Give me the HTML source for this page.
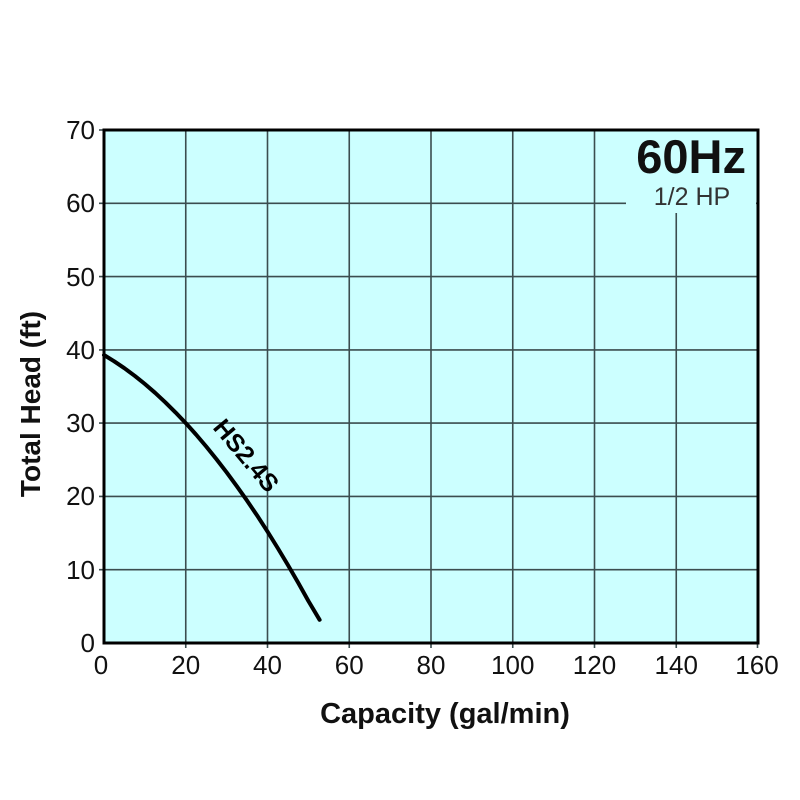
<!DOCTYPE html>
<html><head><meta charset="utf-8"><style>
html,body{margin:0;padding:0;background:#fff;}
svg{display:block;}
</style></head><body>
<svg width="800" height="800" viewBox="0 0 800 800" xmlns="http://www.w3.org/2000/svg">
<rect x="0" y="0" width="800" height="800" fill="#ffffff"/>
<rect x="104" y="130" width="654" height="513" fill="#ccffff"/>
<g stroke="#3b4d4f" stroke-width="1.6">
<line x1="185.75" y1="130" x2="185.75" y2="648"/>
<line x1="267.5" y1="130" x2="267.5" y2="648"/>
<line x1="349.25" y1="130" x2="349.25" y2="648"/>
<line x1="431" y1="130" x2="431" y2="648"/>
<line x1="512.75" y1="130" x2="512.75" y2="648"/>
<line x1="594.5" y1="130" x2="594.5" y2="648"/>
<line x1="676.25" y1="130" x2="676.25" y2="648"/>
<line x1="99" y1="569.7" x2="758" y2="569.7"/>
<line x1="99" y1="496.4" x2="758" y2="496.4"/>
<line x1="99" y1="423.1" x2="758" y2="423.1"/>
<line x1="99" y1="349.9" x2="758" y2="349.9"/>
<line x1="99" y1="276.6" x2="758" y2="276.6"/>
<line x1="99" y1="203.3" x2="758" y2="203.3"/>
<line x1="99" y1="130" x2="104" y2="130"/>
<line x1="757.5" y1="643" x2="757.5" y2="648"/>
</g>
<rect x="626" y="131" width="130" height="82" fill="#ccffff"/>
<rect x="104" y="130" width="654" height="513" fill="none" stroke="#000" stroke-width="3"/>
<polyline points="104,355 114.2,361.3 124.4,368.2 134.7,375.8 144.9,384 155.1,392.8 165.3,402.3 175.5,412.4 185.75,423.1 196,434.5 206.2,446.5 216.4,459.1 226.6,472.3 236.8,486.2 247.1,500.7 257.3,515.8 267.5,531.6 277.7,548 287.9,565 298.2,582.7 308.4,601 319.6,619.8" fill="none" stroke="#000" stroke-width="4" stroke-linecap="round" stroke-linejoin="round"/>
<text x="0" y="0" transform="translate(212,428) rotate(50)" font-family="Liberation Sans, Arial, sans-serif" font-weight="bold" font-size="25" fill="#000">HS2.4S</text>
<text x="746" y="173" text-anchor="end" font-family="Liberation Sans, Arial, sans-serif" font-weight="bold" font-size="47" fill="#111">60Hz</text>
<text x="692" y="205" text-anchor="middle" font-family="Liberation Sans, Arial, sans-serif" font-size="25" fill="#333">1/2 HP</text>
<g font-family="Liberation Sans, Arial, sans-serif" font-size="26" fill="#111" text-anchor="end">
<text x="95" y="652">0</text>
<text x="95" y="579">10</text>
<text x="95" y="505">20</text>
<text x="95" y="432">30</text>
<text x="95" y="359">40</text>
<text x="95" y="286">50</text>
<text x="95" y="212">60</text>
<text x="95" y="139">70</text>
</g>
<g font-family="Liberation Sans, Arial, sans-serif" font-size="26" fill="#111" text-anchor="middle">
<text x="101" y="674">0</text>
<text x="185.75" y="674">20</text>
<text x="267.5" y="674">40</text>
<text x="349.25" y="674">60</text>
<text x="431" y="674">80</text>
<text x="512.75" y="674">100</text>
<text x="594.5" y="674">120</text>
<text x="676.25" y="674">140</text>
<text x="757" y="674">160</text>
</g>
<text x="445" y="723" text-anchor="middle" font-family="Liberation Sans, Arial, sans-serif" font-weight="bold" font-size="29" fill="#111">Capacity (gal/min)</text>
<text x="0" y="0" transform="translate(40,404) rotate(-90)" text-anchor="middle" font-family="Liberation Sans, Arial, sans-serif" font-weight="bold" font-size="28" fill="#111">Total Head (ft)</text>
</svg>
</body></html>
